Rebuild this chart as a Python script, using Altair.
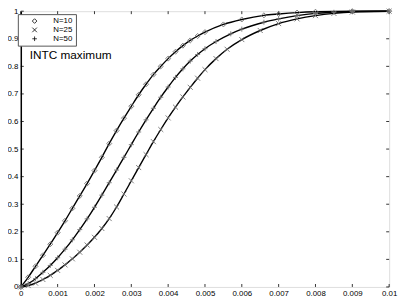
import altair as alt
import pandas as pd

# ---- data ----
X_N10 = [0, 0.0002, 0.0004, 0.0006, 0.0008, 0.001, 0.0012, 0.0014, 0.0016, 0.0018,
         0.002, 0.0022, 0.0024, 0.0026, 0.0028, 0.003, 0.0032, 0.0034, 0.0036, 0.0038,
         0.004, 0.0042, 0.0044, 0.0046, 0.0048, 0.005, 0.0055, 0.006, 0.0066, 0.007,
         0.0075, 0.008, 0.009, 0.01]
Y_N10 = [0, 0.035, 0.075, 0.115, 0.155, 0.197, 0.24, 0.285, 0.33, 0.375,
         0.422, 0.47, 0.52, 0.567, 0.612, 0.655, 0.697, 0.735, 0.77, 0.8,
         0.828, 0.853, 0.875, 0.894, 0.91, 0.924, 0.952, 0.97, 0.985, 0.99,
         0.995, 0.998, 1.0, 1.0]

X_MID = [0, 0.0002, 0.0004, 0.0006, 0.0008, 0.001, 0.0012, 0.0014, 0.0016, 0.0018,
         0.002, 0.0022, 0.0024, 0.0026, 0.0028, 0.003, 0.0032, 0.0034, 0.0036, 0.0038,
         0.004, 0.0042, 0.0044, 0.0046, 0.0048, 0.005, 0.0053, 0.0057, 0.006, 0.0066,
         0.007, 0.0075, 0.008, 0.0085, 0.009, 0.01]
Y_MID = [0, 0.012, 0.03, 0.053, 0.078, 0.106, 0.137, 0.171, 0.208, 0.247,
         0.289, 0.333, 0.378, 0.424, 0.47, 0.516, 0.562, 0.606, 0.648, 0.688,
         0.725, 0.76, 0.791, 0.819, 0.843, 0.864, 0.89, 0.918, 0.935, 0.96,
         0.972, 0.984, 0.992, 0.996, 0.999, 1.0]

X_RIGHT = [0, 0.0002, 0.0004, 0.0006, 0.0008, 0.001, 0.0012, 0.0014, 0.0016, 0.0018,
           0.002, 0.0022, 0.0024, 0.0026, 0.0028, 0.003, 0.0032, 0.0034, 0.0036, 0.0038,
           0.004, 0.0042, 0.0044, 0.0046, 0.0048, 0.005, 0.0053, 0.0056, 0.006, 0.0065,
           0.007, 0.0075, 0.008, 0.0085, 0.009, 0.01]
Y_RIGHT = [0, 0.005, 0.014, 0.027, 0.042, 0.06, 0.08, 0.102, 0.126, 0.152,
           0.18, 0.212, 0.248, 0.29, 0.337, 0.385, 0.433, 0.48, 0.527, 0.571,
           0.613, 0.652, 0.689, 0.724, 0.757, 0.788, 0.828, 0.862, 0.897, 0.93,
           0.955, 0.972, 0.984, 0.992, 0.997, 1.0]

SERIES = ["N=10", "N=25", "N=50"]
SHAPES = ["diamond", "M-1,-1L1,1M-1,1L1,-1", "M-1,0L1,0M0,-1L0,1"]
X_TICKS = [0, 0.001, 0.002, 0.003, 0.004, 0.005, 0.006, 0.007, 0.008, 0.009, 0.01]
Y_TICKS = [0, 0.1, 0.2, 0.3, 0.4, 0.5, 0.6, 0.7, 0.8, 0.9, 1.0]
LABEL = ["INTC maximum"]

rows = []
for name, xs, ys in [("N=10", X_N10, Y_N10), ("N=50", X_MID, Y_MID), ("N=25", X_RIGHT, Y_RIGHT)]:
    for xv, yv in zip(xs, ys):
        rows.append({"series": name, "x": xv, "y": yv})
df = pd.DataFrame(rows)

W, H = 374, 280
xscale = alt.Scale(domain=[0, 0.01], nice=False, zero=False)
yscale = alt.Scale(domain=[0, 1], nice=False)

xaxis = alt.Axis(values=X_TICKS, format="~g", tickSize=0, labelFontSize=8, labelPadding=3,
                 labelFont="Liberation Sans", labelColor="black", domain=False, grid=False, title=None,
                 labelFlush=False, labelOverlap=False)
yaxis = alt.Axis(values=Y_TICKS, format="~g", tickSize=0, labelFontSize=8, labelPadding=3,
                 labelFont="Liberation Sans", labelColor="black", domainColor="black", domainWidth=1.5,
                 grid=False, title=None, labelFlush=False, labelOverlap=False)

def X(field):
    return alt.X(field, scale=xscale, axis=xaxis)

def Y(field):
    return alt.Y(field, scale=yscale, axis=yaxis)

base = alt.Chart(df)

lines = base.mark_line(color="black", strokeWidth=1.4, interpolate="monotone").encode(
    x=X("x:Q"), y=Y("y:Q"), detail="series:N",
)

points = base.mark_point(filled=False, color="#707070", size=26, strokeWidth=0.9, opacity=1).encode(
    x=X("x:Q"), y=Y("y:Q"),
    shape=alt.Shape("series:N", scale=alt.Scale(domain=SERIES, range=SHAPES),
                    legend=alt.Legend(title=None, orient="none", legendX=-3, legendY=3,
                                      strokeColor="#555555", fillColor="white", padding=3,
                                      labelFontSize=8, labelFont="Liberation Sans", labelColor="black",
                                      symbolSize=22, symbolStrokeColor="black", symbolStrokeWidth=0.8,
                                      symbolFillColor="transparent", symbolOffset=10, labelOffset=15,
                                      rowPadding=1, labelLimit=60)),
)

xt = pd.DataFrame({"t": X_TICKS})
yt = pd.DataFrame({"t": Y_TICKS})
tick_style = dict(color="black", strokeWidth=0.8)
tick_bot = alt.Chart(xt).mark_rule(**tick_style).encode(
    x=X("t:Q"), y=alt.value(H), y2=alt.value(H - 3))
tick_top = alt.Chart(xt).mark_rule(**tick_style).encode(
    x=X("t:Q"), y=alt.value(0), y2=alt.value(3))
tick_left = alt.Chart(yt).mark_rule(**tick_style).encode(
    y=Y("t:Q"), x=alt.value(0), x2=alt.value(3))
tick_right = alt.Chart(yt).mark_rule(**tick_style).encode(
    y=Y("t:Q"), x=alt.value(W), x2=alt.value(W - 3))

title_txt = alt.Chart(pd.DataFrame({"label": LABEL})).mark_text(
    align="left", baseline="alphabetic", fontSize=12, font="Liberation Sans", color="black"
).encode(x=alt.value(9), y=alt.value(49), text="label:N")

chart = alt.layer(lines, tick_bot, tick_top, tick_left, tick_right, points, title_txt).properties(
    width=W, height=H,
    autosize=alt.AutoSizeParams(type="none"),
    padding={"left": 13, "top": 1, "right": 10, "bottom": 11},
).configure_view(stroke="#555555", strokeWidth=1).configure(background="white")

chart.save("out.html", embed_options={"renderer": "svg", "actions": False})
